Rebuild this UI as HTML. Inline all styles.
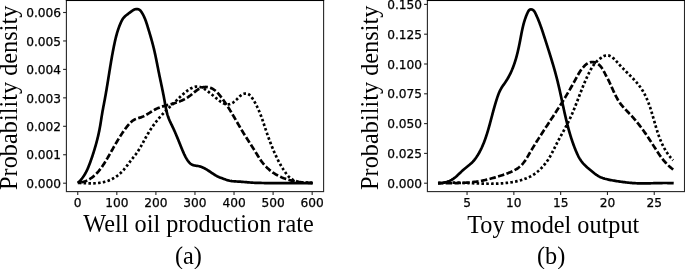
<!DOCTYPE html>
<html><head><meta charset="utf-8"><title>Probability density</title>
<style>
html,body{margin:0;padding:0;background:#fff;}
body{width:685px;height:269px;overflow:hidden;}
svg{display:block;}
.tk{font-family:"DejaVu Sans","Liberation Sans",sans-serif;font-size:12.2px;fill:#000;stroke:#000;stroke-width:0.25px;}
.lb{font-family:"Liberation Serif","DejaVu Serif",serif;font-size:24.25px;fill:#000;}
</style></head><body>
<svg width="685" height="269" viewBox="0 0 685 269">
<rect width="685" height="269" fill="#fff"/>
<rect x="66.40" y="0.50" width="257.20" height="191.10" fill="none" stroke="#262626" stroke-width="1.1"/>
<line x1="65.85" y1="0.5" x2="324.15" y2="0.5" stroke="#000" stroke-width="1"/>
<line x1="77.75" y1="191.60" x2="77.75" y2="194.90" stroke="#262626" stroke-width="1.1"/>
<text x="77.75" y="206.70" text-anchor="middle" class="tk">0</text>
<line x1="116.82" y1="191.60" x2="116.82" y2="194.90" stroke="#262626" stroke-width="1.1"/>
<text x="116.82" y="206.70" text-anchor="middle" class="tk">100</text>
<line x1="155.89" y1="191.60" x2="155.89" y2="194.90" stroke="#262626" stroke-width="1.1"/>
<text x="155.89" y="206.70" text-anchor="middle" class="tk">200</text>
<line x1="194.96" y1="191.60" x2="194.96" y2="194.90" stroke="#262626" stroke-width="1.1"/>
<text x="194.96" y="206.70" text-anchor="middle" class="tk">300</text>
<line x1="234.03" y1="191.60" x2="234.03" y2="194.90" stroke="#262626" stroke-width="1.1"/>
<text x="234.03" y="206.70" text-anchor="middle" class="tk">400</text>
<line x1="273.10" y1="191.60" x2="273.10" y2="194.90" stroke="#262626" stroke-width="1.1"/>
<text x="273.10" y="206.70" text-anchor="middle" class="tk">500</text>
<line x1="312.17" y1="191.60" x2="312.17" y2="194.90" stroke="#262626" stroke-width="1.1"/>
<text x="312.17" y="206.70" text-anchor="middle" class="tk">600</text>
<line x1="63.10" y1="183.20" x2="66.40" y2="183.20" stroke="#262626" stroke-width="1.1"/>
<text x="61.10" y="187.85" text-anchor="end" class="tk">0.000</text>
<line x1="63.10" y1="154.75" x2="66.40" y2="154.75" stroke="#262626" stroke-width="1.1"/>
<text x="61.10" y="159.40" text-anchor="end" class="tk">0.001</text>
<line x1="63.10" y1="126.30" x2="66.40" y2="126.30" stroke="#262626" stroke-width="1.1"/>
<text x="61.10" y="130.95" text-anchor="end" class="tk">0.002</text>
<line x1="63.10" y1="97.85" x2="66.40" y2="97.85" stroke="#262626" stroke-width="1.1"/>
<text x="61.10" y="102.50" text-anchor="end" class="tk">0.003</text>
<line x1="63.10" y1="69.40" x2="66.40" y2="69.40" stroke="#262626" stroke-width="1.1"/>
<text x="61.10" y="74.05" text-anchor="end" class="tk">0.004</text>
<line x1="63.10" y1="40.95" x2="66.40" y2="40.95" stroke="#262626" stroke-width="1.1"/>
<text x="61.10" y="45.60" text-anchor="end" class="tk">0.005</text>
<line x1="63.10" y1="12.50" x2="66.40" y2="12.50" stroke="#262626" stroke-width="1.1"/>
<text x="61.10" y="17.15" text-anchor="end" class="tk">0.006</text>
<rect x="427.40" y="0.50" width="257.10" height="191.10" fill="none" stroke="#262626" stroke-width="1.1"/>
<line x1="426.85" y1="0.5" x2="685.05" y2="0.5" stroke="#000" stroke-width="1"/>
<line x1="467.05" y1="191.60" x2="467.05" y2="194.90" stroke="#262626" stroke-width="1.1"/>
<text x="467.05" y="206.70" text-anchor="middle" class="tk">5</text>
<line x1="513.85" y1="191.60" x2="513.85" y2="194.90" stroke="#262626" stroke-width="1.1"/>
<text x="513.85" y="206.70" text-anchor="middle" class="tk">10</text>
<line x1="560.65" y1="191.60" x2="560.65" y2="194.90" stroke="#262626" stroke-width="1.1"/>
<text x="560.65" y="206.70" text-anchor="middle" class="tk">15</text>
<line x1="607.45" y1="191.60" x2="607.45" y2="194.90" stroke="#262626" stroke-width="1.1"/>
<text x="607.45" y="206.70" text-anchor="middle" class="tk">20</text>
<line x1="654.25" y1="191.60" x2="654.25" y2="194.90" stroke="#262626" stroke-width="1.1"/>
<text x="654.25" y="206.70" text-anchor="middle" class="tk">25</text>
<line x1="424.10" y1="183.20" x2="427.40" y2="183.20" stroke="#262626" stroke-width="1.1"/>
<text x="422.10" y="187.85" text-anchor="end" class="tk">0.000</text>
<line x1="424.10" y1="153.40" x2="427.40" y2="153.40" stroke="#262626" stroke-width="1.1"/>
<text x="422.10" y="158.05" text-anchor="end" class="tk">0.025</text>
<line x1="424.10" y1="123.60" x2="427.40" y2="123.60" stroke="#262626" stroke-width="1.1"/>
<text x="422.10" y="128.25" text-anchor="end" class="tk">0.050</text>
<line x1="424.10" y1="93.80" x2="427.40" y2="93.80" stroke="#262626" stroke-width="1.1"/>
<text x="422.10" y="98.45" text-anchor="end" class="tk">0.075</text>
<line x1="424.10" y1="64.00" x2="427.40" y2="64.00" stroke="#262626" stroke-width="1.1"/>
<text x="422.10" y="68.65" text-anchor="end" class="tk">0.100</text>
<line x1="424.10" y1="34.20" x2="427.40" y2="34.20" stroke="#262626" stroke-width="1.1"/>
<text x="422.10" y="38.85" text-anchor="end" class="tk">0.125</text>
<line x1="424.10" y1="4.40" x2="427.40" y2="4.40" stroke="#262626" stroke-width="1.1"/>
<text x="422.10" y="9.05" text-anchor="end" class="tk">0.150</text>
<path d="M77.81 182.93 L78.73 182.10 L79.60 181.23 L80.43 180.34 L81.23 179.43 L81.98 178.49 L82.71 177.53 L83.40 176.55 L84.06 175.55 L84.69 174.53 L85.29 173.49 L85.87 172.44 L86.42 171.37 L86.95 170.29 L87.46 169.20 L87.95 168.09 L88.42 166.98 L88.87 165.86 L89.32 164.73 L89.75 163.59 L90.17 162.45 L90.58 161.31 L90.98 160.16 L91.38 159.01 L91.78 157.86 L92.17 156.71 L92.55 155.56 L92.93 154.41 L93.30 153.26 L93.67 152.11 L94.03 150.95 L94.38 149.80 L94.73 148.64 L95.08 147.48 L95.41 146.32 L95.75 145.16 L96.07 144.00 L96.39 142.84 L96.70 141.67 L97.00 140.50 L97.30 139.34 L97.59 138.17 L97.87 136.99 L98.15 135.82 L98.42 134.65 L98.68 133.47 L98.93 132.29 L99.18 131.11 L99.41 129.93 L99.64 128.74 L99.87 127.56 L100.08 126.37 L100.29 125.18 L100.48 123.98 L100.68 122.79 L100.87 121.59 L101.06 120.40 L101.24 119.20 L101.43 118.01 L101.62 116.81 L101.81 115.62 L102.01 114.42 L102.21 113.23 L102.41 112.04 L102.62 110.84 L102.84 109.66 L103.06 108.47 L103.28 107.28 L103.51 106.09 L103.74 104.90 L103.96 103.72 L104.19 102.53 L104.42 101.34 L104.64 100.16 L104.86 98.97 L105.08 97.78 L105.30 96.59 L105.51 95.41 L105.72 94.22 L105.93 93.03 L106.13 91.84 L106.34 90.65 L106.54 89.45 L106.74 88.26 L106.93 87.07 L107.13 85.88 L107.33 84.69 L107.52 83.50 L107.72 82.30 L107.91 81.11 L108.10 79.92 L108.29 78.73 L108.48 77.53 L108.67 76.34 L108.86 75.15 L109.06 73.96 L109.25 72.76 L109.44 71.57 L109.63 70.38 L109.83 69.18 L110.02 67.99 L110.22 66.80 L110.41 65.61 L110.61 64.41 L110.81 63.22 L111.01 62.03 L111.21 60.84 L111.42 59.65 L111.63 58.46 L111.84 57.27 L112.05 56.08 L112.26 54.89 L112.48 53.70 L112.70 52.51 L112.92 51.32 L113.15 50.13 L113.38 48.94 L113.61 47.76 L113.85 46.57 L114.09 45.38 L114.34 44.20 L114.59 43.01 L114.85 41.83 L115.11 40.65 L115.38 39.47 L115.66 38.29 L115.96 37.12 L116.26 35.95 L116.57 34.78 L116.89 33.62 L117.23 32.46 L117.58 31.31 L117.95 30.16 L118.33 29.01 L118.73 27.87 L119.15 26.74 L119.59 25.61 L120.04 24.49 L120.52 23.38 L121.01 22.28 L121.53 21.18 L122.08 20.10 L122.69 19.06 L123.38 18.08 L124.17 17.18 L125.03 16.34 L125.95 15.56 L126.89 14.80 L127.84 14.06 L128.80 13.31 L129.76 12.57 L130.74 11.83 L131.76 11.08 L132.81 10.37 L133.90 9.76 L135.03 9.30 L136.19 9.05 L137.35 9.04 L138.46 9.28 L139.47 9.79 L140.34 10.56 L141.11 11.50 L141.80 12.53 L142.45 13.59 L143.05 14.66 L143.60 15.74 L144.13 16.84 L144.61 17.95 L145.07 19.07 L145.51 20.20 L145.92 21.33 L146.31 22.48 L146.69 23.62 L147.06 24.77 L147.42 25.93 L147.77 27.08 L148.13 28.24 L148.48 29.39 L148.83 30.55 L149.18 31.71 L149.53 32.87 L149.88 34.02 L150.22 35.18 L150.55 36.34 L150.89 37.50 L151.22 38.67 L151.55 39.83 L151.87 40.99 L152.19 42.16 L152.50 43.32 L152.81 44.49 L153.11 45.66 L153.41 46.83 L153.70 48.00 L153.98 49.18 L154.26 50.35 L154.53 51.53 L154.80 52.71 L155.06 53.89 L155.32 55.07 L155.57 56.25 L155.82 57.44 L156.06 58.62 L156.30 59.81 L156.54 60.99 L156.78 62.18 L157.02 63.36 L157.25 64.55 L157.48 65.74 L157.72 66.92 L157.95 68.11 L158.18 69.30 L158.42 70.48 L158.66 71.67 L158.89 72.85 L159.14 74.04 L159.38 75.22 L159.62 76.41 L159.87 77.59 L160.12 78.77 L160.37 79.95 L160.62 81.14 L160.87 82.32 L161.12 83.50 L161.37 84.68 L161.61 85.86 L161.86 87.05 L162.11 88.23 L162.35 89.41 L162.60 90.60 L162.84 91.78 L163.07 92.96 L163.31 94.15 L163.54 95.34 L163.77 96.52 L163.99 97.71 L164.22 98.90 L164.43 100.09 L164.64 101.28 L164.85 102.47 L165.06 103.67 L165.28 104.86 L165.49 106.05 L165.72 107.23 L165.95 108.42 L166.20 109.60 L166.46 110.78 L166.73 111.95 L167.03 113.11 L167.34 114.27 L167.68 115.43 L168.05 116.57 L168.45 117.71 L168.87 118.84 L169.33 119.96 L169.81 121.07 L170.32 122.17 L170.85 123.27 L171.38 124.37 L171.92 125.46 L172.45 126.56 L172.98 127.65 L173.49 128.75 L174.00 129.85 L174.49 130.96 L174.98 132.07 L175.46 133.17 L175.94 134.28 L176.41 135.40 L176.87 136.51 L177.33 137.62 L177.78 138.74 L178.24 139.86 L178.69 140.97 L179.14 142.09 L179.59 143.21 L180.04 144.33 L180.49 145.45 L180.94 146.57 L181.39 147.68 L181.85 148.80 L182.31 149.92 L182.78 151.03 L183.26 152.15 L183.75 153.26 L184.25 154.36 L184.78 155.45 L185.33 156.53 L185.91 157.60 L186.51 158.65 L187.16 159.68 L187.84 160.69 L188.57 161.68 L189.35 162.62 L190.20 163.47 L191.13 164.20 L192.15 164.77 L193.26 165.17 L194.43 165.46 L195.64 165.67 L196.86 165.85 L198.07 166.04 L199.26 166.27 L200.43 166.58 L201.56 166.95 L202.67 167.40 L203.75 167.90 L204.81 168.45 L205.86 169.04 L206.89 169.67 L207.91 170.33 L208.93 171.00 L209.94 171.68 L210.95 172.37 L211.96 173.06 L212.97 173.73 L214.00 174.39 L215.03 175.02 L216.08 175.61 L217.15 176.17 L218.23 176.69 L219.33 177.18 L220.44 177.64 L221.56 178.09 L222.69 178.52 L223.82 178.94 L224.96 179.35 L226.11 179.74 L227.26 180.10 L228.42 180.43 L229.60 180.71 L230.78 180.95 L231.97 181.13 L233.17 181.27 L234.37 181.38 L235.58 181.46 L236.79 181.52 L238.00 181.58 L239.22 181.64 L240.43 181.71 L241.64 181.80 L242.84 181.89 L244.05 181.99 L245.25 182.10 L246.46 182.21 L247.66 182.32 L248.86 182.42 L250.06 182.52 L251.27 182.60 L252.47 182.67 L253.68 182.74 L254.89 182.79 L256.10 182.84 L257.30 182.88 L258.51 182.91 L259.72 182.95 L260.93 182.97 L262.14 183.00 L263.35 183.02 L264.55 183.04 L265.76 183.06 L266.97 183.08 L268.18 183.09 L269.39 183.10 L270.60 183.11 L271.81 183.12 L273.02 183.13 L274.22 183.13 L275.43 183.14 L276.64 183.14 L277.85 183.14 L279.06 183.14 L280.27 183.14 L281.48 183.13 L282.68 183.13 L283.89 183.13 L285.10 183.12 L286.31 183.12 L287.52 183.11 L288.73 183.11 L289.94 183.10 L291.14 183.10 L292.35 183.09 L293.56 183.08 L294.77 183.08 L295.98 183.07 L297.19 183.07 L298.40 183.07 L299.61 183.06 L300.81 183.06 L302.02 183.06 L303.23 183.06 L304.44 183.06 L305.65 183.06 L306.86 183.06 L308.07 183.07 L309.27 183.08 L310.48 183.08 L311.69 183.09 L312.90 183.10" fill="none" stroke="#000" stroke-width="2.70"/>
<path d="M77.68 182.89 L78.56 182.80 L79.43 182.69 L80.28 182.56 L81.11 182.40 L81.93 182.22 L82.73 182.02 L83.52 181.79 L84.30 181.55 L85.06 181.28 L85.80 180.99 L86.54 180.68 L87.25 180.35 L87.96 180.01 L88.65 179.64 L89.33 179.26 L90.00 178.85 L90.66 178.44 L91.30 178.00 L91.93 177.55 L92.55 177.08 L93.16 176.60 L93.76 176.11 L94.35 175.59 L94.93 175.07 L95.50 174.53 L96.06 173.98 L96.61 173.42 L97.15 172.85 L97.68 172.27 L98.20 171.67 L98.72 171.07 L99.23 170.45 L99.72 169.83 L100.22 169.20 L100.70 168.56 L101.18 167.91 L101.65 167.26 L102.12 166.60 L102.58 165.93 L103.03 165.26 L103.48 164.58 L103.93 163.90 L104.36 163.22 L104.80 162.53 L105.23 161.84 L105.66 161.14 L106.08 160.45 L106.50 159.75 L106.91 159.05 L107.32 158.35 L107.74 157.66 L108.14 156.96 L108.55 156.26 L108.95 155.56 L109.35 154.86 L109.75 154.17 L110.15 153.47 L110.55 152.77 L110.95 152.07 L111.34 151.38 L111.73 150.68 L112.13 149.99 L112.52 149.29 L112.92 148.60 L113.31 147.91 L113.70 147.21 L114.10 146.52 L114.49 145.83 L114.89 145.14 L115.29 144.45 L115.69 143.77 L116.08 143.08 L116.49 142.39 L116.89 141.71 L117.29 141.03 L117.70 140.35 L118.11 139.67 L118.52 138.99 L118.94 138.31 L119.36 137.64 L119.78 136.96 L120.20 136.29 L120.63 135.62 L121.06 134.95 L121.50 134.29 L121.94 133.62 L122.39 132.96 L122.83 132.30 L123.29 131.64 L123.75 130.98 L124.21 130.33 L124.68 129.68 L125.15 129.03 L125.64 128.38 L126.12 127.73 L126.61 127.09 L127.11 126.45 L127.62 125.81 L128.13 125.18 L128.66 124.56 L129.19 123.96 L129.73 123.36 L130.29 122.79 L130.87 122.23 L131.46 121.70 L132.06 121.19 L132.68 120.71 L133.33 120.26 L133.99 119.84 L134.67 119.46 L135.38 119.12 L136.11 118.82 L136.85 118.55 L137.62 118.31 L138.39 118.07 L139.16 117.84 L139.93 117.61 L140.70 117.37 L141.46 117.11 L142.21 116.82 L142.95 116.51 L143.68 116.18 L144.39 115.83 L145.10 115.47 L145.81 115.08 L146.50 114.69 L147.19 114.28 L147.88 113.87 L148.56 113.45 L149.24 113.02 L149.92 112.59 L150.60 112.17 L151.27 111.74 L151.96 111.32 L152.64 110.90 L153.32 110.49 L154.01 110.09 L154.71 109.70 L155.41 109.32 L156.12 108.96 L156.84 108.62 L157.57 108.30 L158.30 107.99 L159.04 107.69 L159.78 107.41 L160.53 107.14 L161.29 106.88 L162.05 106.63 L162.81 106.39 L163.58 106.16 L164.35 105.94 L165.13 105.72 L165.90 105.51 L166.68 105.30 L167.46 105.10 L168.24 104.89 L169.02 104.69 L169.80 104.49 L170.58 104.29 L171.35 104.08 L172.13 103.87 L172.90 103.66 L173.67 103.44 L174.43 103.22 L175.20 102.99 L175.95 102.75 L176.71 102.50 L177.45 102.25 L178.20 101.98 L178.94 101.71 L179.67 101.42 L180.40 101.12 L181.12 100.82 L181.84 100.50 L182.55 100.17 L183.26 99.83 L183.96 99.48 L184.66 99.12 L185.35 98.74 L186.04 98.35 L186.72 97.95 L187.39 97.53 L188.06 97.10 L188.72 96.65 L189.37 96.19 L190.02 95.72 L190.67 95.22 L191.30 94.72 L191.94 94.20 L192.57 93.68 L193.20 93.16 L193.83 92.63 L194.46 92.11 L195.10 91.59 L195.74 91.09 L196.39 90.59 L197.05 90.12 L197.71 89.66 L198.40 89.23 L199.09 88.83 L199.80 88.46 L200.52 88.12 L201.27 87.82 L202.02 87.56 L202.79 87.34 L203.56 87.17 L204.35 87.05 L205.13 86.98 L205.92 86.96 L206.71 86.99 L207.50 87.08 L208.28 87.21 L209.06 87.39 L209.82 87.62 L210.58 87.88 L211.33 88.19 L212.06 88.53 L212.78 88.91 L213.47 89.32 L214.15 89.77 L214.80 90.24 L215.44 90.74 L216.04 91.26 L216.63 91.81 L217.20 92.38 L217.75 92.96 L218.29 93.56 L218.81 94.17 L219.32 94.79 L219.83 95.42 L220.33 96.05 L220.82 96.68 L221.31 97.32 L221.79 97.96 L222.27 98.60 L222.75 99.25 L223.22 99.90 L223.68 100.55 L224.15 101.21 L224.60 101.86 L225.06 102.52 L225.51 103.18 L225.95 103.85 L226.40 104.51 L226.84 105.18 L227.27 105.85 L227.70 106.52 L228.14 107.20 L228.56 107.87 L228.99 108.55 L229.41 109.23 L229.83 109.91 L230.25 110.59 L230.66 111.28 L231.08 111.96 L231.49 112.65 L231.90 113.33 L232.31 114.02 L232.71 114.71 L233.12 115.40 L233.52 116.09 L233.93 116.78 L234.33 117.48 L234.73 118.17 L235.13 118.86 L235.54 119.55 L235.94 120.25 L236.34 120.94 L236.74 121.63 L237.14 122.33 L237.54 123.02 L237.94 123.71 L238.34 124.41 L238.74 125.10 L239.15 125.79 L239.55 126.48 L239.96 127.17 L240.36 127.86 L240.77 128.55 L241.18 129.24 L241.59 129.93 L242.01 130.62 L242.42 131.30 L242.84 131.99 L243.26 132.67 L243.68 133.35 L244.10 134.03 L244.52 134.71 L244.95 135.39 L245.38 136.07 L245.80 136.75 L246.23 137.43 L246.66 138.10 L247.09 138.78 L247.53 139.45 L247.96 140.13 L248.39 140.80 L248.83 141.48 L249.26 142.15 L249.69 142.82 L250.13 143.50 L250.56 144.17 L250.99 144.84 L251.43 145.52 L251.86 146.19 L252.29 146.87 L252.72 147.54 L253.15 148.22 L253.58 148.89 L254.01 149.57 L254.43 150.24 L254.86 150.92 L255.28 151.60 L255.70 152.28 L256.12 152.96 L256.54 153.64 L256.96 154.32 L257.37 155.00 L257.79 155.68 L258.21 156.36 L258.63 157.04 L259.06 157.71 L259.49 158.38 L259.92 159.05 L260.36 159.71 L260.82 160.37 L261.27 161.02 L261.74 161.67 L262.22 162.31 L262.71 162.94 L263.22 163.56 L263.73 164.18 L264.25 164.79 L264.79 165.38 L265.34 165.97 L265.89 166.56 L266.46 167.13 L267.03 167.69 L267.62 168.25 L268.22 168.79 L268.82 169.32 L269.43 169.85 L270.05 170.36 L270.68 170.86 L271.32 171.36 L271.96 171.84 L272.62 172.31 L273.28 172.77 L273.94 173.22 L274.61 173.65 L275.29 174.08 L275.98 174.49 L276.67 174.89 L277.37 175.28 L278.07 175.66 L278.78 176.02 L279.49 176.38 L280.21 176.72 L280.94 177.05 L281.67 177.37 L282.40 177.69 L283.14 177.99 L283.88 178.28 L284.63 178.55 L285.38 178.82 L286.13 179.08 L286.89 179.33 L287.65 179.57 L288.42 179.80 L289.19 180.02 L289.96 180.23 L290.74 180.43 L291.51 180.63 L292.29 180.81 L293.08 180.98 L293.86 181.15 L294.65 181.31 L295.44 181.46 L296.23 181.60 L297.02 181.73 L297.82 181.85 L298.61 181.97 L299.41 182.08 L300.21 182.18 L301.01 182.27 L301.81 182.36 L302.61 182.44 L303.41 182.51 L304.21 182.58 L305.01 182.63 L305.81 182.69 L306.62 182.73 L307.42 182.77 L308.22 182.80 L309.02 182.83 L309.81 182.85 L310.61 182.86 L311.41 182.87 L312.20 182.87" fill="none" stroke="#000" stroke-width="2.70" stroke-dasharray="6.47 2.38" stroke-dashoffset="5.40"/>
<path d="M77.82 182.93 L78.66 182.96 L79.49 182.99 L80.33 183.02 L81.18 183.06 L82.02 183.09 L82.87 183.13 L83.73 183.16 L84.58 183.20 L85.44 183.23 L86.30 183.26 L87.16 183.28 L88.02 183.31 L88.88 183.32 L89.75 183.33 L90.61 183.34 L91.47 183.34 L92.34 183.32 L93.20 183.31 L94.06 183.28 L94.92 183.24 L95.78 183.19 L96.64 183.13 L97.49 183.06 L98.35 182.97 L99.20 182.87 L100.04 182.76 L100.89 182.63 L101.73 182.48 L102.57 182.32 L103.40 182.15 L104.23 181.95 L105.05 181.73 L105.87 181.50 L106.68 181.24 L107.49 180.97 L108.29 180.68 L109.08 180.37 L109.87 180.04 L110.65 179.69 L111.42 179.33 L112.19 178.95 L112.94 178.55 L113.69 178.13 L114.43 177.70 L115.15 177.25 L115.87 176.78 L116.57 176.30 L117.27 175.80 L117.95 175.29 L118.62 174.76 L119.28 174.22 L119.92 173.66 L120.55 173.09 L121.17 172.50 L121.78 171.90 L122.37 171.29 L122.95 170.66 L123.52 170.03 L124.07 169.38 L124.62 168.73 L125.17 168.06 L125.70 167.39 L126.23 166.72 L126.75 166.04 L127.27 165.35 L127.79 164.66 L128.30 163.97 L128.81 163.28 L129.33 162.59 L129.84 161.90 L130.36 161.21 L130.87 160.52 L131.40 159.84 L131.92 159.16 L132.45 158.49 L132.99 157.82 L133.53 157.15 L134.07 156.49 L134.60 155.82 L135.13 155.15 L135.65 154.48 L136.17 153.80 L136.67 153.11 L137.16 152.42 L137.64 151.72 L138.11 151.01 L138.57 150.30 L139.02 149.58 L139.47 148.85 L139.91 148.13 L140.34 147.39 L140.77 146.66 L141.19 145.92 L141.61 145.17 L142.02 144.43 L142.44 143.68 L142.85 142.93 L143.25 142.18 L143.66 141.43 L144.07 140.68 L144.47 139.92 L144.88 139.17 L145.29 138.42 L145.70 137.67 L146.11 136.92 L146.53 136.17 L146.95 135.43 L147.38 134.69 L147.81 133.95 L148.25 133.21 L148.70 132.48 L149.14 131.75 L149.60 131.03 L150.06 130.30 L150.52 129.59 L150.99 128.87 L151.47 128.16 L151.95 127.45 L152.44 126.75 L152.93 126.04 L153.43 125.35 L153.93 124.65 L154.44 123.96 L154.95 123.28 L155.47 122.60 L155.99 121.92 L156.51 121.24 L157.05 120.57 L157.58 119.91 L158.13 119.24 L158.67 118.59 L159.22 117.93 L159.78 117.28 L160.34 116.64 L160.91 116.00 L161.48 115.36 L162.05 114.73 L162.63 114.10 L163.22 113.47 L163.80 112.86 L164.40 112.24 L164.99 111.63 L165.60 111.02 L166.20 110.42 L166.81 109.82 L167.42 109.23 L168.03 108.63 L168.64 108.04 L169.26 107.45 L169.87 106.86 L170.49 106.27 L171.10 105.68 L171.72 105.09 L172.33 104.50 L172.94 103.91 L173.55 103.32 L174.16 102.73 L174.76 102.14 L175.36 101.54 L175.97 100.95 L176.57 100.35 L177.17 99.76 L177.77 99.16 L178.38 98.57 L178.98 97.98 L179.59 97.39 L180.21 96.80 L180.83 96.22 L181.45 95.64 L182.08 95.06 L182.72 94.49 L183.37 93.93 L184.02 93.37 L184.68 92.81 L185.36 92.27 L186.04 91.73 L186.73 91.20 L187.44 90.68 L188.16 90.17 L188.89 89.67 L189.63 89.19 L190.38 88.74 L191.14 88.32 L191.91 87.94 L192.69 87.59 L193.48 87.29 L194.28 87.03 L195.08 86.83 L195.89 86.69 L196.71 86.61 L197.53 86.59 L198.36 86.65 L199.18 86.77 L200.01 86.94 L200.82 87.18 L201.63 87.47 L202.42 87.80 L203.20 88.18 L203.96 88.59 L204.70 89.04 L205.43 89.52 L206.15 90.02 L206.85 90.54 L207.54 91.08 L208.22 91.61 L208.89 92.16 L209.54 92.70 L210.19 93.23 L210.82 93.75 L211.45 94.26 L212.08 94.78 L212.71 95.29 L213.34 95.81 L213.98 96.34 L214.63 96.88 L215.30 97.43 L215.98 98.01 L216.67 98.58 L217.38 99.17 L218.10 99.75 L218.83 100.32 L219.56 100.87 L220.31 101.41 L221.06 101.92 L221.82 102.40 L222.58 102.84 L223.34 103.25 L224.11 103.60 L224.88 103.90 L225.64 104.14 L226.41 104.32 L227.17 104.42 L227.93 104.45 L228.68 104.40 L229.43 104.26 L230.17 104.05 L230.90 103.76 L231.63 103.41 L232.35 103.00 L233.07 102.53 L233.78 102.02 L234.48 101.46 L235.17 100.87 L235.86 100.25 L236.54 99.61 L237.21 98.96 L237.88 98.29 L238.54 97.62 L239.20 96.96 L239.85 96.32 L240.52 95.72 L241.19 95.17 L241.88 94.68 L242.60 94.27 L243.34 93.94 L244.09 93.71 L244.86 93.57 L245.62 93.52 L246.38 93.56 L247.13 93.69 L247.85 93.92 L248.55 94.25 L249.22 94.67 L249.84 95.18 L250.44 95.77 L251.00 96.43 L251.54 97.13 L252.05 97.86 L252.55 98.60 L253.04 99.36 L253.52 100.11 L253.98 100.87 L254.43 101.63 L254.87 102.39 L255.29 103.15 L255.71 103.92 L256.12 104.69 L256.52 105.47 L256.90 106.24 L257.28 107.02 L257.65 107.80 L258.01 108.58 L258.37 109.36 L258.71 110.15 L259.05 110.93 L259.38 111.72 L259.70 112.51 L260.02 113.30 L260.33 114.10 L260.64 114.89 L260.94 115.69 L261.24 116.49 L261.53 117.29 L261.82 118.09 L262.11 118.89 L262.39 119.69 L262.67 120.49 L262.94 121.30 L263.22 122.10 L263.49 122.91 L263.76 123.71 L264.03 124.52 L264.30 125.33 L264.57 126.13 L264.84 126.94 L265.10 127.75 L265.37 128.56 L265.65 129.37 L265.92 130.17 L266.19 130.98 L266.47 131.79 L266.75 132.60 L267.02 133.41 L267.31 134.21 L267.59 135.02 L267.87 135.83 L268.16 136.63 L268.45 137.44 L268.74 138.24 L269.03 139.05 L269.33 139.85 L269.63 140.66 L269.93 141.46 L270.23 142.26 L270.54 143.06 L270.84 143.86 L271.16 144.65 L271.47 145.45 L271.79 146.24 L272.11 147.04 L272.43 147.83 L272.76 148.62 L273.09 149.41 L273.42 150.20 L273.75 150.98 L274.09 151.77 L274.44 152.55 L274.78 153.33 L275.13 154.11 L275.49 154.88 L275.85 155.66 L276.21 156.43 L276.57 157.20 L276.94 157.97 L277.32 158.73 L277.70 159.49 L278.08 160.25 L278.47 161.01 L278.87 161.76 L279.27 162.52 L279.67 163.26 L280.08 164.01 L280.50 164.75 L280.93 165.49 L281.36 166.23 L281.80 166.97 L282.24 167.70 L282.70 168.42 L283.16 169.15 L283.63 169.87 L284.10 170.59 L284.59 171.30 L285.09 172.01 L285.59 172.72 L286.10 173.42 L286.63 174.12 L287.17 174.80 L287.72 175.46 L288.29 176.11 L288.88 176.73 L289.49 177.32 L290.13 177.87 L290.79 178.39 L291.47 178.88 L292.18 179.32 L292.91 179.73 L293.66 180.11 L294.43 180.45 L295.22 180.76 L296.02 181.04 L296.84 181.29 L297.67 181.51 L298.51 181.71 L299.36 181.88 L300.22 182.03 L301.08 182.15 L301.95 182.25 L302.82 182.34 L303.70 182.40 L304.57 182.45 L305.45 182.49 L306.32 182.52 L307.18 182.55 L308.04 182.58 L308.89 182.62 L309.74 182.66 L310.57 182.72 L311.39 182.80 L312.20 182.89" fill="none" stroke="#000" stroke-width="2.70" stroke-dasharray="2.56 2.27" stroke-dashoffset="3.90"/>
<path d="M438.00 183.10 L439.17 183.12 L440.35 183.08 L441.52 183.00 L442.70 182.86 L443.86 182.67 L445.02 182.42 L446.16 182.12 L447.29 181.78 L448.40 181.38 L449.48 180.93 L450.54 180.42 L451.57 179.87 L452.56 179.27 L453.53 178.62 L454.46 177.93 L455.37 177.20 L456.26 176.44 L457.13 175.66 L458.00 174.87 L458.85 174.05 L459.70 173.24 L460.56 172.42 L461.41 171.61 L462.28 170.80 L463.16 170.02 L464.05 169.25 L464.96 168.50 L465.87 167.77 L466.79 167.03 L467.70 166.30 L468.61 165.56 L469.51 164.82 L470.39 164.05 L471.26 163.27 L472.10 162.46 L472.91 161.63 L473.69 160.75 L474.44 159.85 L475.16 158.92 L475.86 157.97 L476.53 157.01 L477.18 156.02 L477.81 155.03 L478.42 154.02 L479.01 153.01 L479.58 151.98 L480.13 150.95 L480.67 149.91 L481.18 148.86 L481.69 147.80 L482.17 146.73 L482.64 145.66 L483.10 144.58 L483.55 143.49 L483.98 142.40 L484.40 141.31 L484.80 140.21 L485.20 139.10 L485.59 137.99 L485.97 136.88 L486.33 135.77 L486.70 134.65 L487.05 133.54 L487.40 132.42 L487.74 131.29 L488.07 130.17 L488.40 129.04 L488.72 127.92 L489.04 126.79 L489.36 125.66 L489.67 124.53 L489.98 123.40 L490.28 122.27 L490.59 121.14 L490.89 120.01 L491.19 118.88 L491.49 117.74 L491.79 116.61 L492.09 115.48 L492.39 114.34 L492.69 113.21 L493.00 112.08 L493.30 110.95 L493.61 109.82 L493.92 108.68 L494.24 107.55 L494.56 106.43 L494.88 105.30 L495.21 104.17 L495.54 103.05 L495.88 101.92 L496.23 100.80 L496.58 99.68 L496.94 98.56 L497.31 97.44 L497.68 96.33 L498.08 95.22 L498.49 94.12 L498.92 93.03 L499.38 91.96 L499.87 90.90 L500.40 89.85 L500.96 88.83 L501.56 87.82 L502.19 86.83 L502.84 85.85 L503.50 84.88 L504.17 83.91 L504.84 82.94 L505.51 81.97 L506.16 80.99 L506.79 80.00 L507.41 79.00 L508.00 77.99 L508.58 76.97 L509.14 75.94 L509.68 74.90 L510.20 73.86 L510.71 72.80 L511.20 71.74 L511.67 70.67 L512.13 69.60 L512.57 68.51 L513.00 67.42 L513.42 66.33 L513.82 65.23 L514.21 64.12 L514.59 63.01 L514.95 61.90 L515.31 60.78 L515.65 59.66 L515.98 58.53 L516.30 57.40 L516.61 56.27 L516.91 55.13 L517.20 53.99 L517.49 52.85 L517.77 51.71 L518.03 50.56 L518.30 49.42 L518.55 48.27 L518.80 47.12 L519.04 45.97 L519.28 44.82 L519.51 43.67 L519.74 42.52 L519.97 41.37 L520.19 40.22 L520.41 39.07 L520.62 37.92 L520.84 36.77 L521.06 35.63 L521.28 34.48 L521.50 33.33 L521.72 32.19 L521.96 31.05 L522.19 29.91 L522.44 28.77 L522.70 27.63 L522.97 26.49 L523.24 25.35 L523.54 24.22 L523.84 23.09 L524.17 21.96 L524.50 20.83 L524.86 19.70 L525.24 18.57 L525.64 17.45 L526.06 16.33 L526.50 15.20 L526.96 14.09 L527.46 12.97 L527.98 11.87 L528.57 10.87 L529.25 10.06 L530.05 9.51 L531.00 9.31 L532.09 9.52 L533.13 10.08 L534.00 10.91 L534.72 11.93 L535.33 13.06 L535.87 14.22 L536.39 15.34 L536.87 16.44 L537.34 17.51 L537.79 18.57 L538.23 19.63 L538.66 20.69 L539.08 21.76 L539.49 22.84 L539.90 23.92 L540.30 25.01 L540.70 26.10 L541.09 27.20 L541.48 28.30 L541.86 29.41 L542.23 30.52 L542.61 31.63 L542.98 32.74 L543.34 33.86 L543.71 34.98 L544.07 36.10 L544.43 37.22 L544.80 38.34 L545.16 39.46 L545.51 40.59 L545.87 41.71 L546.23 42.83 L546.59 43.95 L546.95 45.07 L547.31 46.19 L547.67 47.31 L548.02 48.43 L548.38 49.55 L548.74 50.67 L549.09 51.78 L549.44 52.90 L549.79 54.02 L550.14 55.14 L550.49 56.26 L550.84 57.38 L551.18 58.50 L551.52 59.62 L551.87 60.74 L552.20 61.86 L552.54 62.99 L552.87 64.11 L553.20 65.23 L553.53 66.36 L553.86 67.48 L554.18 68.60 L554.50 69.73 L554.82 70.86 L555.13 71.98 L555.44 73.11 L555.75 74.24 L556.05 75.37 L556.35 76.50 L556.65 77.64 L556.94 78.77 L557.23 79.91 L557.51 81.04 L557.79 82.18 L558.06 83.32 L558.34 84.46 L558.61 85.60 L558.87 86.74 L559.14 87.88 L559.40 89.03 L559.66 90.17 L559.91 91.32 L560.17 92.46 L560.42 93.61 L560.67 94.75 L560.92 95.90 L561.17 97.05 L561.42 98.20 L561.66 99.34 L561.91 100.49 L562.16 101.64 L562.40 102.79 L562.65 103.94 L562.90 105.08 L563.15 106.23 L563.40 107.38 L563.65 108.53 L563.90 109.67 L564.15 110.82 L564.40 111.96 L564.66 113.11 L564.92 114.25 L565.18 115.40 L565.44 116.54 L565.71 117.68 L565.98 118.83 L566.25 119.97 L566.53 121.10 L566.81 122.24 L567.09 123.38 L567.38 124.52 L567.67 125.65 L567.97 126.78 L568.27 127.92 L568.57 129.05 L568.88 130.17 L569.20 131.30 L569.52 132.43 L569.85 133.55 L570.18 134.67 L570.52 135.79 L570.87 136.91 L571.22 138.03 L571.58 139.14 L571.95 140.25 L572.32 141.36 L572.71 142.47 L573.10 143.57 L573.49 144.68 L573.90 145.78 L574.31 146.88 L574.73 147.97 L575.17 149.06 L575.61 150.15 L576.06 151.24 L576.52 152.32 L576.99 153.40 L577.48 154.47 L577.98 155.53 L578.51 156.57 L579.07 157.60 L579.65 158.61 L580.26 159.60 L580.91 160.57 L581.59 161.51 L582.31 162.42 L583.07 163.31 L583.86 164.17 L584.68 165.01 L585.53 165.83 L586.41 166.63 L587.29 167.42 L588.19 168.19 L589.10 168.96 L590.01 169.72 L590.92 170.48 L591.83 171.24 L592.73 172.00 L593.64 172.74 L594.55 173.47 L595.47 174.17 L596.41 174.85 L597.37 175.49 L598.35 176.10 L599.37 176.65 L600.41 177.16 L601.49 177.61 L602.60 178.02 L603.73 178.38 L604.87 178.72 L606.02 179.02 L607.18 179.30 L608.34 179.57 L609.49 179.82 L610.65 180.06 L611.80 180.28 L612.95 180.49 L614.10 180.69 L615.26 180.88 L616.41 181.06 L617.56 181.24 L618.72 181.41 L619.87 181.57 L621.03 181.73 L622.18 181.88 L623.34 182.04 L624.50 182.19 L625.67 182.33 L626.83 182.48 L628.00 182.61 L629.17 182.74 L630.33 182.85 L631.50 182.95 L632.67 183.04 L633.84 183.11 L635.01 183.18 L636.18 183.23 L637.35 183.28 L638.52 183.31 L639.69 183.34 L640.87 183.35 L642.04 183.36 L643.21 183.37 L644.38 183.37 L645.56 183.36 L646.73 183.34 L647.90 183.33 L649.07 183.31 L650.25 183.28 L651.42 183.26 L652.60 183.23 L653.77 183.20 L654.94 183.17 L656.12 183.15 L657.29 183.12 L658.46 183.09 L659.64 183.07 L660.81 183.05 L661.98 183.03 L663.16 183.02 L664.33 183.01 L665.50 183.01 L666.67 183.02 L667.85 183.03 L669.02 183.05 L670.19 183.07 L671.36 183.11 L672.53 183.15 L673.70 183.21" fill="none" stroke="#000" stroke-width="2.70"/>
<path d="M438.00 183.08 L438.87 183.09 L439.75 183.09 L440.62 183.10 L441.50 183.11 L442.37 183.11 L443.25 183.12 L444.13 183.12 L445.01 183.13 L445.89 183.14 L446.77 183.14 L447.65 183.14 L448.52 183.14 L449.41 183.15 L450.29 183.15 L451.17 183.14 L452.05 183.14 L452.93 183.13 L453.81 183.12 L454.69 183.11 L455.57 183.10 L456.45 183.08 L457.33 183.07 L458.21 183.04 L459.09 183.02 L459.97 182.99 L460.85 182.96 L461.73 182.92 L462.61 182.89 L463.49 182.84 L464.37 182.80 L465.24 182.74 L466.12 182.69 L467.00 182.63 L467.87 182.56 L468.75 182.49 L469.62 182.42 L470.49 182.33 L471.37 182.25 L472.24 182.16 L473.11 182.06 L473.98 181.95 L474.85 181.84 L475.71 181.73 L476.58 181.61 L477.44 181.48 L478.31 181.34 L479.17 181.20 L480.03 181.05 L480.89 180.89 L481.75 180.73 L482.61 180.56 L483.46 180.38 L484.32 180.20 L485.17 180.01 L486.02 179.82 L486.88 179.62 L487.73 179.41 L488.58 179.20 L489.43 178.99 L490.28 178.77 L491.13 178.54 L491.97 178.31 L492.82 178.07 L493.67 177.83 L494.51 177.59 L495.36 177.34 L496.20 177.09 L497.05 176.83 L497.89 176.57 L498.73 176.30 L499.58 176.03 L500.42 175.76 L501.26 175.49 L502.11 175.21 L502.95 174.93 L503.79 174.64 L504.63 174.35 L505.47 174.06 L506.31 173.76 L507.15 173.45 L507.98 173.14 L508.80 172.82 L509.62 172.49 L510.43 172.15 L511.24 171.81 L512.04 171.44 L512.82 171.07 L513.60 170.68 L514.37 170.28 L515.12 169.87 L515.87 169.44 L516.60 168.99 L517.31 168.52 L518.01 168.04 L518.70 167.54 L519.37 167.01 L520.02 166.47 L520.65 165.90 L521.27 165.31 L521.86 164.70 L522.44 164.07 L523.00 163.41 L523.54 162.74 L524.07 162.05 L524.59 161.35 L525.09 160.63 L525.59 159.90 L526.07 159.16 L526.55 158.40 L527.02 157.64 L527.48 156.88 L527.94 156.11 L528.39 155.33 L528.85 154.56 L529.30 153.78 L529.75 153.00 L530.20 152.23 L530.66 151.45 L531.11 150.68 L531.57 149.92 L532.03 149.15 L532.49 148.39 L532.95 147.62 L533.41 146.86 L533.87 146.11 L534.34 145.35 L534.80 144.59 L535.27 143.84 L535.74 143.09 L536.20 142.34 L536.67 141.59 L537.14 140.84 L537.61 140.10 L538.08 139.35 L538.56 138.61 L539.03 137.87 L539.50 137.13 L539.98 136.39 L540.45 135.65 L540.93 134.92 L541.40 134.18 L541.88 133.44 L542.36 132.71 L542.83 131.98 L543.31 131.24 L543.79 130.51 L544.27 129.78 L544.75 129.05 L545.23 128.32 L545.71 127.59 L546.19 126.86 L546.66 126.13 L547.14 125.40 L547.62 124.67 L548.10 123.94 L548.58 123.22 L549.06 122.49 L549.55 121.76 L550.03 121.03 L550.51 120.31 L550.98 119.58 L551.46 118.85 L551.94 118.12 L552.42 117.39 L552.90 116.66 L553.38 115.93 L553.86 115.20 L554.34 114.47 L554.81 113.74 L555.29 113.01 L555.77 112.28 L556.24 111.55 L556.72 110.81 L557.20 110.08 L557.67 109.34 L558.14 108.61 L558.62 107.87 L559.09 107.13 L559.56 106.39 L560.03 105.65 L560.50 104.91 L560.97 104.17 L561.44 103.42 L561.91 102.68 L562.37 101.93 L562.84 101.18 L563.30 100.43 L563.77 99.68 L564.23 98.93 L564.69 98.18 L565.15 97.43 L565.61 96.67 L566.07 95.91 L566.52 95.16 L566.98 94.40 L567.43 93.64 L567.88 92.88 L568.33 92.12 L568.78 91.35 L569.22 90.59 L569.67 89.83 L570.11 89.06 L570.55 88.30 L570.99 87.53 L571.43 86.77 L571.86 86.00 L572.29 85.23 L572.72 84.46 L573.15 83.69 L573.58 82.93 L574.00 82.16 L574.42 81.39 L574.84 80.62 L575.26 79.84 L575.67 79.07 L576.08 78.30 L576.50 77.53 L576.91 76.77 L577.33 76.00 L577.76 75.24 L578.19 74.48 L578.63 73.73 L579.07 72.98 L579.53 72.24 L580.01 71.50 L580.49 70.78 L581.00 70.06 L581.52 69.35 L582.05 68.65 L582.61 67.96 L583.19 67.28 L583.80 66.61 L584.42 65.96 L585.07 65.34 L585.75 64.74 L586.44 64.19 L587.16 63.68 L587.90 63.23 L588.66 62.84 L589.45 62.52 L590.25 62.27 L591.08 62.10 L591.92 62.02 L592.79 62.04 L593.67 62.15 L594.55 62.35 L595.41 62.62 L596.25 62.97 L597.06 63.37 L597.82 63.84 L598.53 64.35 L599.20 64.91 L599.83 65.52 L600.42 66.16 L600.98 66.84 L601.51 67.54 L602.01 68.27 L602.49 69.03 L602.95 69.80 L603.40 70.58 L603.82 71.37 L604.24 72.17 L604.66 72.96 L605.07 73.75 L605.48 74.53 L605.89 75.31 L606.30 76.07 L606.71 76.84 L607.11 77.60 L607.51 78.36 L607.91 79.13 L608.31 79.89 L608.69 80.67 L609.08 81.44 L609.45 82.23 L609.83 83.02 L610.20 83.81 L610.56 84.61 L610.92 85.42 L611.29 86.22 L611.65 87.03 L612.01 87.84 L612.37 88.65 L612.73 89.46 L613.10 90.27 L613.46 91.08 L613.83 91.88 L614.21 92.69 L614.59 93.49 L614.97 94.29 L615.36 95.09 L615.76 95.88 L616.16 96.66 L616.58 97.45 L617.00 98.22 L617.43 98.99 L617.87 99.75 L618.33 100.50 L618.79 101.24 L619.27 101.97 L619.76 102.70 L620.27 103.41 L620.79 104.11 L621.33 104.80 L621.87 105.48 L622.43 106.15 L623.01 106.82 L623.59 107.47 L624.17 108.12 L624.77 108.77 L625.37 109.41 L625.98 110.04 L626.59 110.68 L627.20 111.31 L627.81 111.94 L628.43 112.57 L629.04 113.20 L629.65 113.84 L630.26 114.47 L630.86 115.11 L631.46 115.76 L632.05 116.41 L632.64 117.06 L633.22 117.71 L633.80 118.37 L634.37 119.03 L634.94 119.70 L635.51 120.37 L636.07 121.04 L636.63 121.71 L637.18 122.39 L637.73 123.07 L638.28 123.75 L638.82 124.44 L639.36 125.13 L639.89 125.82 L640.42 126.52 L640.95 127.21 L641.48 127.91 L642.00 128.62 L642.52 129.32 L643.03 130.03 L643.55 130.74 L644.06 131.45 L644.56 132.17 L645.07 132.89 L645.57 133.61 L646.07 134.33 L646.56 135.05 L647.06 135.78 L647.55 136.50 L648.04 137.23 L648.53 137.96 L649.01 138.70 L649.50 139.43 L649.98 140.17 L650.46 140.90 L650.94 141.64 L651.41 142.38 L651.89 143.12 L652.36 143.87 L652.83 144.61 L653.30 145.36 L653.77 146.10 L654.24 146.85 L654.71 147.59 L655.19 148.34 L655.66 149.08 L656.13 149.82 L656.61 150.56 L657.09 151.30 L657.57 152.04 L658.06 152.77 L658.55 153.50 L659.05 154.22 L659.55 154.95 L660.05 155.66 L660.56 156.37 L661.08 157.08 L661.60 157.78 L662.13 158.48 L662.67 159.17 L663.21 159.85 L663.77 160.53 L664.33 161.20 L664.90 161.86 L665.48 162.51 L666.07 163.15 L666.67 163.79 L667.29 164.42 L667.91 165.03 L668.54 165.64 L669.19 166.24 L669.85 166.82 L670.52 167.40 L671.21 167.96 L671.91 168.52 L672.62 169.06 L673.35 169.58" fill="none" stroke="#000" stroke-width="2.70" stroke-dasharray="6.47 2.38" stroke-dashoffset="1.20"/>
<path d="M438.00 183.11 L438.92 183.04 L439.84 182.97 L440.75 182.91 L441.67 182.85 L442.59 182.80 L443.51 182.75 L444.43 182.72 L445.35 182.68 L446.27 182.65 L447.19 182.63 L448.11 182.61 L449.03 182.60 L449.95 182.59 L450.87 182.58 L451.79 182.58 L452.71 182.59 L453.64 182.59 L454.56 182.60 L455.48 182.62 L456.40 182.63 L457.33 182.65 L458.25 182.68 L459.17 182.70 L460.10 182.73 L461.02 182.76 L461.94 182.79 L462.87 182.82 L463.79 182.86 L464.72 182.90 L465.64 182.93 L466.56 182.97 L467.49 183.01 L468.41 183.05 L469.34 183.09 L470.26 183.13 L471.19 183.18 L472.11 183.22 L473.04 183.26 L473.96 183.30 L474.89 183.34 L475.81 183.38 L476.73 183.42 L477.66 183.45 L478.58 183.49 L479.51 183.52 L480.43 183.55 L481.36 183.59 L482.28 183.61 L483.20 183.64 L484.13 183.66 L485.05 183.68 L485.97 183.70 L486.90 183.71 L487.82 183.73 L488.74 183.73 L489.67 183.74 L490.59 183.74 L491.51 183.73 L492.43 183.72 L493.35 183.71 L494.28 183.69 L495.20 183.67 L496.12 183.65 L497.04 183.61 L497.96 183.58 L498.88 183.53 L499.80 183.48 L500.72 183.43 L501.64 183.37 L502.55 183.30 L503.47 183.23 L504.39 183.15 L505.31 183.06 L506.23 182.96 L507.14 182.86 L508.06 182.75 L508.97 182.64 L509.89 182.51 L510.80 182.38 L511.72 182.24 L512.63 182.09 L513.54 181.93 L514.45 181.76 L515.36 181.58 L516.26 181.39 L517.17 181.19 L518.06 180.98 L518.96 180.76 L519.85 180.52 L520.74 180.27 L521.62 180.01 L522.49 179.74 L523.36 179.45 L524.23 179.15 L525.09 178.83 L525.94 178.50 L526.78 178.16 L527.62 177.80 L528.45 177.42 L529.27 177.03 L530.09 176.61 L530.89 176.19 L531.69 175.74 L532.47 175.28 L533.25 174.79 L534.01 174.29 L534.77 173.77 L535.51 173.24 L536.25 172.68 L536.97 172.11 L537.69 171.53 L538.39 170.93 L539.08 170.31 L539.76 169.68 L540.43 169.03 L541.09 168.38 L541.74 167.70 L542.37 167.02 L543.00 166.33 L543.61 165.62 L544.21 164.91 L544.81 164.18 L545.39 163.45 L545.95 162.70 L546.51 161.95 L547.05 161.19 L547.59 160.43 L548.11 159.65 L548.61 158.88 L549.11 158.09 L549.59 157.30 L550.07 156.51 L550.53 155.71 L550.97 154.91 L551.41 154.11 L551.84 153.30 L552.27 152.49 L552.69 151.68 L553.10 150.86 L553.51 150.05 L553.91 149.23 L554.31 148.42 L554.72 147.60 L555.12 146.78 L555.52 145.97 L555.93 145.15 L556.34 144.33 L556.76 143.52 L557.18 142.70 L557.60 141.89 L558.03 141.08 L558.46 140.27 L558.90 139.46 L559.34 138.65 L559.78 137.84 L560.22 137.03 L560.66 136.22 L561.11 135.41 L561.55 134.60 L562.00 133.79 L562.45 132.98 L562.89 132.18 L563.34 131.36 L563.79 130.55 L564.23 129.74 L564.67 128.93 L565.12 128.12 L565.55 127.30 L565.99 126.49 L566.42 125.67 L566.85 124.85 L567.28 124.03 L567.70 123.21 L568.12 122.38 L568.54 121.56 L568.95 120.73 L569.35 119.90 L569.75 119.07 L570.14 118.24 L570.53 117.40 L570.91 116.56 L571.29 115.72 L571.66 114.88 L572.03 114.04 L572.40 113.20 L572.76 112.35 L573.12 111.50 L573.47 110.65 L573.82 109.80 L574.17 108.95 L574.52 108.10 L574.86 107.24 L575.20 106.39 L575.54 105.53 L575.88 104.68 L576.21 103.82 L576.55 102.96 L576.88 102.10 L577.21 101.24 L577.55 100.38 L577.88 99.52 L578.21 98.66 L578.54 97.80 L578.87 96.94 L579.20 96.08 L579.53 95.22 L579.87 94.35 L580.20 93.49 L580.54 92.63 L580.87 91.77 L581.21 90.91 L581.55 90.05 L581.89 89.19 L582.23 88.34 L582.58 87.48 L582.92 86.62 L583.27 85.77 L583.62 84.91 L583.98 84.06 L584.33 83.21 L584.69 82.36 L585.06 81.51 L585.42 80.67 L585.79 79.82 L586.17 78.98 L586.54 78.14 L586.92 77.30 L587.31 76.47 L587.70 75.63 L588.09 74.80 L588.49 73.97 L588.89 73.15 L589.30 72.32 L589.72 71.51 L590.15 70.69 L590.58 69.89 L591.03 69.09 L591.49 68.30 L591.97 67.52 L592.46 66.75 L592.97 65.99 L593.49 65.24 L594.04 64.51 L594.61 63.78 L595.20 63.08 L595.81 62.39 L596.45 61.71 L597.11 61.06 L597.80 60.42 L598.50 59.80 L599.23 59.20 L599.98 58.62 L600.75 58.06 L601.54 57.52 L602.34 57.00 L603.16 56.51 L603.98 56.08 L604.82 55.71 L605.67 55.44 L606.52 55.29 L607.37 55.27 L608.22 55.38 L609.07 55.60 L609.91 55.93 L610.73 56.34 L611.54 56.83 L612.32 57.38 L613.09 57.98 L613.82 58.61 L614.52 59.26 L615.18 59.93 L615.82 60.60 L616.43 61.28 L617.03 61.96 L617.62 62.64 L618.21 63.32 L618.80 64.00 L619.40 64.67 L620.01 65.34 L620.63 66.01 L621.26 66.67 L621.89 67.33 L622.53 67.99 L623.17 68.65 L623.82 69.31 L624.47 69.96 L625.12 70.62 L625.78 71.27 L626.44 71.93 L627.10 72.58 L627.76 73.24 L628.43 73.89 L629.09 74.55 L629.75 75.21 L630.41 75.87 L631.06 76.53 L631.72 77.20 L632.37 77.87 L633.01 78.54 L633.65 79.22 L634.29 79.90 L634.91 80.58 L635.54 81.27 L636.15 81.96 L636.75 82.66 L637.35 83.36 L637.94 84.07 L638.52 84.78 L639.08 85.50 L639.64 86.23 L640.18 86.97 L640.71 87.71 L641.23 88.46 L641.73 89.22 L642.22 89.98 L642.70 90.76 L643.16 91.54 L643.61 92.32 L644.06 93.12 L644.49 93.92 L644.90 94.72 L645.31 95.53 L645.71 96.35 L646.10 97.18 L646.48 98.01 L646.85 98.84 L647.21 99.68 L647.56 100.52 L647.90 101.37 L648.24 102.23 L648.57 103.08 L648.89 103.95 L649.21 104.81 L649.52 105.68 L649.82 106.55 L650.12 107.43 L650.41 108.31 L650.70 109.19 L650.98 110.07 L651.26 110.96 L651.53 111.85 L651.80 112.74 L652.07 113.63 L652.34 114.52 L652.60 115.42 L652.86 116.31 L653.12 117.21 L653.38 118.11 L653.64 119.00 L653.89 119.90 L654.15 120.80 L654.41 121.70 L654.67 122.59 L654.92 123.49 L655.18 124.39 L655.44 125.28 L655.71 126.17 L655.97 127.07 L656.24 127.96 L656.51 128.84 L656.79 129.73 L657.07 130.61 L657.35 131.50 L657.63 132.37 L657.93 133.25 L658.22 134.12 L658.52 134.99 L658.83 135.86 L659.15 136.73 L659.47 137.59 L659.79 138.44 L660.13 139.29 L660.47 140.14 L660.82 140.99 L661.18 141.83 L661.54 142.66 L661.92 143.49 L662.30 144.32 L662.70 145.14 L663.10 145.96 L663.51 146.77 L663.94 147.57 L664.37 148.37 L664.82 149.16 L665.28 149.95 L665.75 150.73 L666.23 151.50 L666.73 152.27 L667.23 153.03 L667.76 153.79 L668.29 154.53 L668.84 155.27 L669.40 156.01 L669.98 156.73 L670.57 157.45 L671.18 158.16 L671.80 158.86 L672.44 159.56 L673.10 160.24" fill="none" stroke="#000" stroke-width="2.70" stroke-dasharray="2.56 2.27"/>
<text x="198.5" y="232.3" text-anchor="middle" class="lb">Well oil production rate</text>
<text x="553.3" y="232.7" text-anchor="middle" class="lb">Toy model output</text>
<text x="188.5" y="263.8" text-anchor="middle" class="lb">(a)</text>
<text x="551.2" y="263.8" text-anchor="middle" class="lb">(b)</text>
<text transform="translate(17.4,97.8) rotate(-90)" text-anchor="middle" class="lb" style="font-size:24.3px">Probability density</text>
<text transform="translate(378.2,97.8) rotate(-90)" text-anchor="middle" class="lb" style="font-size:24.3px">Probability density</text>
</svg>
</body></html>
